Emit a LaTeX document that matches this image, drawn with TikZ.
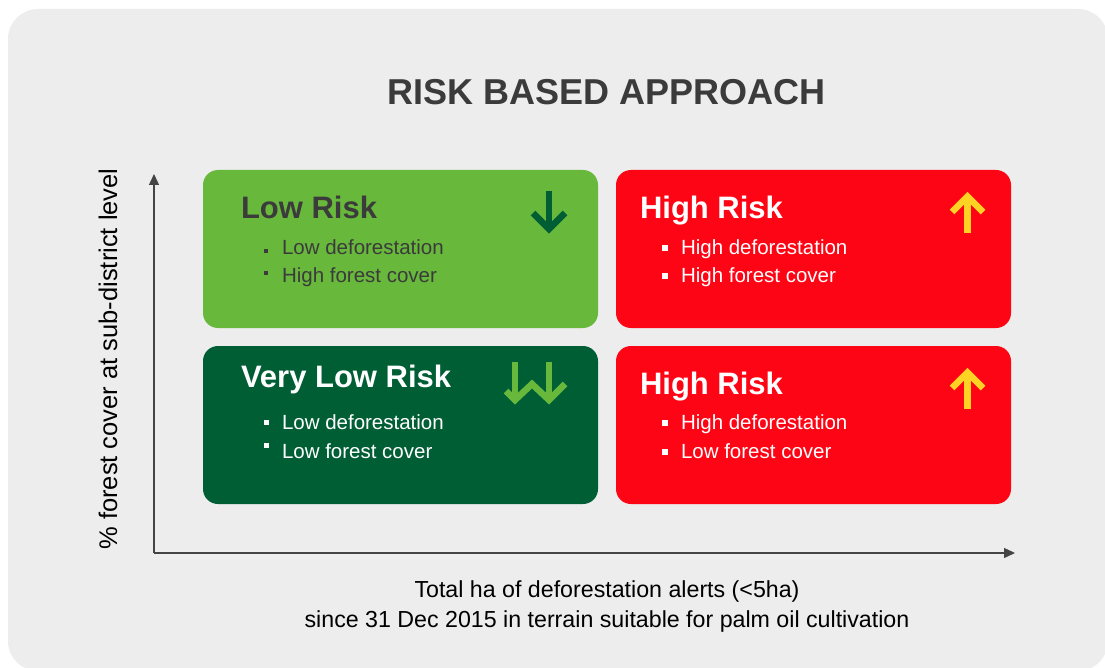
\documentclass[tikz,border=0pt]{standalone}
\usepackage{fontspec}
\setmainfont{Liberation Sans}
\usetikzlibrary{arrows.meta}
\definecolor{bgc}{HTML}{EDEDED}
\definecolor{lgreen}{HTML}{67B83B}
\definecolor{dgreen}{HTML}{005E35}
\definecolor{rred}{HTML}{FE0515}
\definecolor{yel}{HTML}{FFD324}
\definecolor{txt}{HTML}{3B3B3B}
\definecolor{axisc}{HTML}{444444}
\begin{document}
\begin{tikzpicture}[x=1pt,y=-1pt,
  box/.style={rounded corners=15pt, minimum width=395pt, minimum height=158pt, inner sep=0pt},
  boxtitle/.style={anchor=base west, inner sep=0pt, font=\fontsize{31}{31}\selectfont\bfseries},
  bul/.style={anchor=base west, inner sep=0pt, font=\fontsize{20.5}{20.5}\selectfont},
  axisline/.style={draw=axisc, line width=1.3pt, -{Triangle[length=11pt,width=10pt]}},
  arr/.style={line width=6.5pt, miter limit=10},
  ]
\useasboundingbox (0,0) rectangle (1105,668);
\clip (0,0) rectangle (1105,668);
\fill[white] (0,0) rectangle (1105,668);
\fill[bgc, rounded corners=30pt] (8,9) rectangle (1108,671);

% title
\node[anchor=base, inner sep=0pt, text=txt, font=\fontsize{36}{36}\selectfont\bfseries] (title) at (607,105) {RISK BASED APPROACH};

% boxes
\node[box, fill=lgreen] (tl) at (400.5,249) {};
\node[box, fill=rred] (tr) at (813.5,249) {};
\node[box, fill=dgreen] (bl) at (400.5,425) {};
\node[box, fill=rred] (br) at (813.5,425) {};

% top-left
\node[boxtitle, text=txt] (tlt) at ([shift={(38,49)}]tl.north west) {Low Risk};
\node[bul, text=txt] (tlb1) at ([shift={(79,85)}]tl.north west) {Low deforestation};
\node[bul, text=txt] (tlb2) at ([shift={(79,113)}]tl.north west) {High forest cover};
\fill[txt] ([shift={(61,79)}]tl.north west) rectangle ++(4.5,4.5);
\fill[txt] ([shift={(61,101)}]tl.north west) rectangle ++(4.5,4.5);

% top-right
\node[boxtitle, text=white] (trt) at ([shift={(24,49)}]tr.north west) {High Risk};
\node[bul, text=white] (trb1) at ([shift={(65,85)}]tr.north west) {High deforestation};
\node[bul, text=white] (trb2) at ([shift={(65,113)}]tr.north west) {High forest cover};
\fill[white] ([shift={(46,75)}]tr.north west) rectangle ++(6,6);
\fill[white] ([shift={(46,103)}]tr.north west) rectangle ++(6,6);

% bottom-left
\node[boxtitle, text=white] (blt) at ([shift={(38,42)}]bl.north west) {Very Low Risk};
\node[bul, text=white] (blb1) at ([shift={(79,84)}]bl.north west) {Low deforestation};
\node[bul, text=white] (blb2) at ([shift={(79,113)}]bl.north west) {Low forest cover};
\fill[white] ([shift={(61,74)}]bl.north west) rectangle ++(5,5);
\fill[white] ([shift={(61,97)}]bl.north west) rectangle ++(5,5);

% bottom-right
\node[boxtitle, text=white] (brt) at ([shift={(24,49)}]br.north west) {High Risk};
\node[bul, text=white] (brb1) at ([shift={(65,84)}]br.north west) {High deforestation};
\node[bul, text=white] (brb2) at ([shift={(65,113)}]br.north west) {Low forest cover};
\fill[white] ([shift={(46,74)}]br.north west) rectangle ++(6,6);
\fill[white] ([shift={(46,103)}]br.north west) rectangle ++(6,6);

% icons
\draw[arr, draw=dgreen] (549,191) -- (549,228);
\draw[arr, draw=dgreen] (533,213) -- (549,229) -- (565,213);

\draw[arr, draw=yel] (967.5,233) -- (967.5,197);
\draw[arr, draw=yel] (952,212) -- (967.5,196.5) -- (983,212);
\draw[arr, draw=yel] (967.5,409) -- (967.5,373);
\draw[arr, draw=yel] (952,388) -- (967.5,372.5) -- (983,388);

\draw[arr, draw=lgreen] (515,362) -- (515,399);
\draw[arr, draw=lgreen] (549,362) -- (549,399);
\draw[arr, draw=lgreen] (506,391) -- (515,400) -- (532,384) -- (549,400) -- (565,384);

% axes
\coordinate (O) at (154,553);
\coordinate (ytop) at (154,174);
\coordinate (xend) at (1015,553);
\draw[axisline] (O) -- (ytop);
\draw[axisline] (O) -- (xend);

\node[anchor=base, rotate=90, inner sep=0pt, text=black, font=\fontsize{25.5}{25.5}\selectfont] (ylab) at (117,359) {\% forest cover at sub-district level};

\node[anchor=base, inner sep=0pt, text=black, font=\fontsize{23.2}{23.2}\selectfont] (xlab1) at (607,597) {Total ha of deforestation alerts (<5ha)};
\node[anchor=base, inner sep=0pt, text=black, font=\fontsize{23.2}{23.2}\selectfont] (xlab2) at (607,627) {since 31 Dec 2015 in terrain suitable for palm oil cultivation};
\end{tikzpicture}
\end{document}
